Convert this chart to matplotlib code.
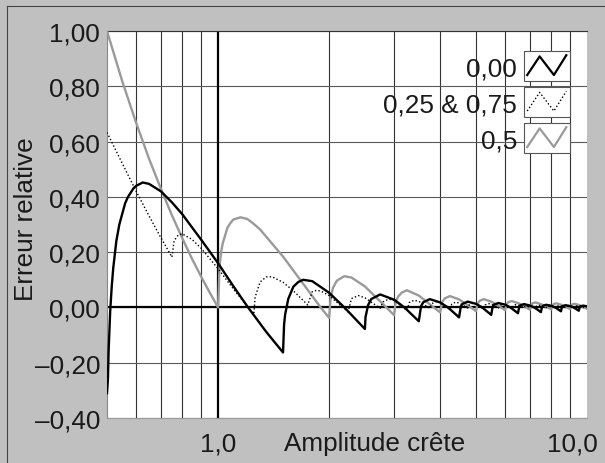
import matplotlib
matplotlib.use('Agg')
import matplotlib.pyplot as plt
from matplotlib import transforms
from matplotlib.lines import Line2D
from matplotlib.patches import Rectangle

plt.rcParams['font.family'] = ['Liberation Sans', 'DejaVu Sans']

# courbes (amplitude crête -> erreur relative)
black_x = [0.5, 0.503, 0.505, 0.51, 0.515, 0.52, 0.53, 0.54, 0.56, 0.57, 0.59, 0.6, 0.625, 0.65, 0.7, 0.75, 0.8, 0.9, 1.0, 1.1, 1.2, 1.35, 1.5,
           1.51, 1.52, 1.55, 1.6, 1.65, 1.7, 1.8, 2.0, 2.2, 2.5,
           2.51, 2.55, 2.6, 2.75, 3.0, 3.2, 3.5,
           3.55, 3.6, 3.75, 4.0, 4.2, 4.5,
           4.55, 4.6, 4.75, 5.0, 5.2, 5.5,
           5.55, 5.6, 5.75, 6.0, 6.2, 6.5,
           6.55, 6.6, 6.75, 7.0, 7.2, 7.5,
           7.55, 7.6, 7.75, 8.0, 8.2, 8.5,
           8.55, 8.6, 8.75, 9.0, 9.2, 9.5,
           9.55, 9.6, 9.75, 10.0]
black_y = [-0.31, -0.257, -0.16, -0.015, 0.076, 0.144, 0.24, 0.30, 0.377, 0.40, 0.431, 0.44, 0.452, 0.447, 0.42, 0.38, 0.337, 0.245, 0.16, 0.077, 0.004, -0.088, -0.163,
           -0.061, -0.025, 0.031, 0.075, 0.092, 0.10, 0.095, 0.053, 0.0, -0.078,
           -0.035, 0.008, 0.03, 0.047, 0.028, 0.0, -0.05,
           0.005, 0.019, 0.030, 0.018, 0.0, -0.036,
           0.004, 0.013, 0.021, 0.013, 0.0, -0.027,
           0.003, 0.010, 0.016, 0.010, 0.0, -0.021,
           0.002, 0.008, 0.012, 0.007, 0.0, -0.017,
           0.002, 0.006, 0.0095, 0.006, 0.0, -0.014,
           0.001, 0.005, 0.008, 0.005, 0.0, -0.012,
           0.001, 0.004, 0.0065, 0.004]

gray_x = [0.5, 0.55, 0.6, 0.65, 0.7, 0.75, 0.8, 0.85, 0.9, 0.95, 1.0,
          1.01, 1.02, 1.03, 1.06, 1.08, 1.1, 1.15, 1.2, 1.25, 1.3, 1.5, 1.7, 1.9, 2.0,
          2.02, 2.05, 2.1, 2.2, 2.3, 2.5, 2.8, 3.0,
          3.03, 3.08, 3.15, 3.25, 3.5, 3.8, 4.0,
          4.05, 4.12, 4.25, 4.5, 4.8, 5.0,
          5.05, 5.12, 5.25, 5.5, 5.8, 6.0,
          6.05, 6.12, 6.25, 6.5, 6.8, 7.0,
          7.05, 7.12, 7.25, 7.5, 7.8, 8.0,
          8.05, 8.12, 8.25, 8.5, 8.8, 9.0,
          9.05, 9.12, 9.25, 9.5, 9.8, 10.0]
gray_y = [1.0, 0.818, 0.667, 0.538, 0.429, 0.333, 0.25, 0.176, 0.111, 0.053, 0.0,
          0.154, 0.203, 0.233, 0.288, 0.305, 0.318, 0.326, 0.32, 0.302, 0.282, 0.184, 0.086, -0.001, -0.038,
          0.038, 0.072, 0.097, 0.113, 0.108, 0.076, 0.012, -0.028,
          0.021, 0.040, 0.054, 0.062, 0.043, 0.005, -0.018,
          0.020, 0.033, 0.041, 0.029, 0.004, -0.013,
          0.014, 0.024, 0.030, 0.021, 0.003, -0.010,
          0.011, 0.019, 0.023, 0.016, 0.002, -0.008,
          0.008, 0.015, 0.018, 0.012, 0.001, -0.007,
          0.007, 0.012, 0.015, 0.010, 0.001, -0.006,
          0.006, 0.011, 0.013, 0.009, 0.0, -0.005]

dot_x = [0.5, 0.55, 0.6, 0.65, 0.7, 0.75, 0.76, 0.78, 0.8, 0.85, 0.9, 1.0, 1.1, 1.25,
         1.26, 1.3, 1.35, 1.4, 1.5, 1.6, 1.75,
         1.8, 1.85, 1.9, 2.0, 2.25,
         2.3, 2.4, 2.5, 2.75,
         2.8, 2.9, 3.0, 3.25,
         3.3, 3.4, 3.5, 3.75,
         3.8, 3.9, 4.0, 4.25,
         4.3, 4.4, 4.5, 4.75,
         4.8, 4.9, 5.0, 5.25,
         5.3, 5.4, 5.5, 5.75,
         5.8, 5.9, 6.0, 6.25,
         6.3, 6.4, 6.5, 6.75,
         6.8, 6.9, 7.0, 7.25,
         7.3, 7.4, 7.5, 7.75,
         7.8, 7.9, 8.0, 8.25,
         8.3, 8.4, 8.5, 8.75,
         8.8, 8.9, 9.0, 9.25,
         9.3, 9.4, 9.5, 9.75,
         9.8, 9.9, 10.0]
dot_y = [0.633, 0.521, 0.42, 0.331, 0.252, 0.182, 0.241, 0.262, 0.266, 0.246, 0.214, 0.14, 0.067, -0.025,
         0.037, 0.092, 0.110, 0.111, 0.091, 0.060, 0.009,
         0.057, 0.062, 0.059, 0.043, -0.016,
         0.032, 0.043, 0.035, -0.003,
         0.020, 0.030, 0.025, -0.011,
         0.018, 0.026, 0.022, -0.003,
         0.014, 0.021, 0.018, -0.008,
         0.012, 0.019, 0.016, -0.002,
         0.010, 0.015, 0.013, -0.006,
         0.009, 0.014, 0.012, -0.002,
         0.007, 0.011, 0.010, -0.005,
         0.006, 0.010, 0.009, -0.0015,
         0.005, 0.009, 0.008, -0.004,
         0.005, 0.008, 0.007, -0.001,
         0.004, 0.007, 0.006, -0.0035,
         0.004, 0.007, 0.006, -0.001,
         0.003, 0.006, 0.005, -0.003,
         0.003, 0.006, 0.005, -0.001,
         0.003, 0.005, 0.0045]

grid_x = [0.6, 0.7, 0.8, 0.9, 2, 3, 4, 5, 6, 7, 8, 9]
y_ticks = [-0.4, -0.2, 0.0, 0.2, 0.4, 0.6, 0.8, 1.0]
y_labels = ['\u20130,40', '\u20130,20', '0,00', '0,20', '0,40', '0,60', '0,80', '1,00']
legend_labels = ['0,00', '0,25 & 0,75', '0,5']

BG = '#c0c0c0'
GRAY = '#9a9a9a'
TXT = '#1a1a1a'
FS = 18.8

fig = plt.figure(figsize=(6.05, 4.64), dpi=100, facecolor=BG)
ax = fig.add_axes([107/605, 45/464, 480/605, 387/464])
ax.set_facecolor('white')
ax.set_xscale('log')
ax.set_xlim(0.5, 10)
ax.set_ylim(-0.4, 1.0)

for gx in grid_x:
    ax.axvline(gx, color='#333333', lw=0.8, zorder=1)
for gy in y_ticks:
    ax.axhline(gy, color='#5a5a5a', lw=0.8, zorder=1)
ax.axvline(1.0, color='black', lw=1.6, zorder=2)
ax.axhline(0.0, color='black', lw=1.6, zorder=2)

ax.plot(gray_x, gray_y, color=GRAY, lw=1.7, zorder=3)
ax.plot(dot_x, dot_y, color='black', lw=1.0, ls=(0, (1, 1.6)), zorder=4)
ax.plot(black_x, black_y, color='black', lw=1.7, zorder=5)

ax.xaxis.set_major_locator(matplotlib.ticker.NullLocator())
ax.xaxis.set_minor_locator(matplotlib.ticker.NullLocator())
ax.set_yticks(y_ticks, y_labels)
ax.tick_params(axis='y', length=0, pad=5, labelsize=FS, labelcolor=TXT)

ax.spines['right'].set_visible(False)
ax.spines['top'].set_color('#333333')
ax.spines['left'].set_color('#888888')
ax.spines['bottom'].set_color('#999999')
for s in ['top', 'left', 'bottom']:
    ax.spines[s].set_linewidth(0.8)

# libellés de l'axe x
tr = transforms.blended_transform_factory(ax.transData, fig.transFigure)
ax.text(1.0, 0.028, '1,0', transform=tr, ha='center', va='baseline', fontsize=FS, color=TXT, clip_on=False)
tr10 = transforms.offset_copy(tr, fig=fig, x=11, units='dots')
ax.text(10.0, 0.028, '10,0', transform=tr10, ha='right', va='baseline', fontsize=FS, color=TXT, clip_on=False)
fig.text(375/605, 0.028, 'Amplitude crête', ha='center', va='baseline', fontsize=FS, color=TXT)
fig.text(26/605, 0.5 + 13/464, 'Erreur relative', rotation=90, ha='center', va='center', fontsize=FS, color=TXT)

# légende dessinée à la main
box_w, box_h = 46/605, 30/464
box_x = 524/605
box_tops = [52, 88, 124]
zig_x = [0.07, 0.34, 0.65, 0.92]
zig_y = [0.2, 0.82, 0.2, 0.86]
styles = [dict(color='black', lw=1.6),
          dict(color='black', lw=1.0, ls=(0, (1, 1.6))),
          dict(color=GRAY, lw=1.6)]
for top, lab, st in zip(box_tops, legend_labels, styles):
    y0 = (464 - top)/464 - box_h
    fig.add_artist(Rectangle((box_x, y0), box_w, box_h, transform=fig.transFigure,
                             facecolor='white', edgecolor='#555555', lw=0.8, zorder=6))
    fig.add_artist(Line2D([box_x + box_w*zx for zx in zig_x], [y0 + box_h*zy for zy in zig_y],
                          transform=fig.transFigure, zorder=7, **st))
    fig.text(517/605, y0 + box_h/2, lab, ha='right', va='center_baseline', fontsize=FS, color=TXT, zorder=7)

# cadre en L en haut et à gauche
fig.add_artist(Line2D([7/605, 1], [1 - 7/464, 1 - 7/464], transform=fig.transFigure, color='#444444', lw=0.8))
fig.add_artist(Line2D([7/605, 7/605], [0, 1 - 7/464], transform=fig.transFigure, color='#444444', lw=0.8))

fig.savefig('out.png', dpi=100, facecolor=BG)
